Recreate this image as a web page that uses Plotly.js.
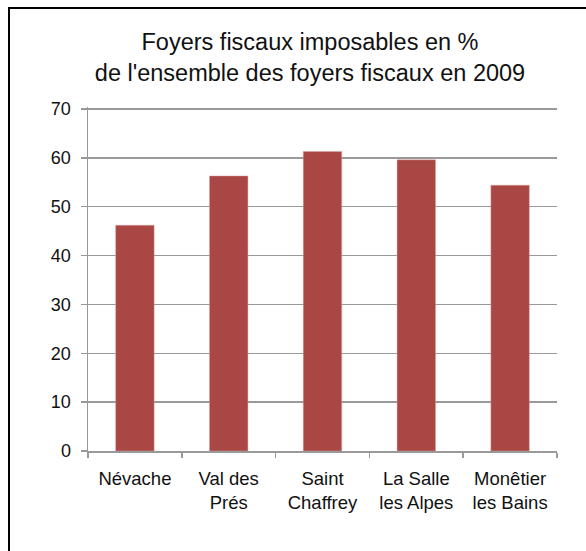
<!DOCTYPE html>
<html>
<head>
<meta charset="utf-8">
<script src="https://cdn.plot.ly/plotly-3.0.1.min.js"></script>
<style>
html,body{margin:0;padding:0;background:#fff;}
#frame{position:absolute;left:8px;top:7px;width:600px;height:600px;border-left:2.5px solid #000;border-top:2.5px solid #000;pointer-events:none;z-index:5;}
#chart{position:absolute;left:0;top:0;width:586px;height:551px;}
</style>
</head>
<body>
<div id="chart"></div>
<div id="frame"></div>
<script>
const categories = ["Névache", "Val des<br>Prés", "Saint<br>Chaffrey", "La Salle<br>les Alpes", "Monêtier<br>les Bains"];
const values = [46.2, 56.3, 61.3, 59.6, 54.4];
const yTicks = [0, 10, 20, 30, 40, 50, 60, 70];

const trace = {
  type: 'bar',
  x: categories,
  y: values,
  width: 0.41,
  marker: {color: '#A84744', line: {color: 'rgba(220,160,160,0.8)', width: 0.6}},
  hoverinfo: 'none'
};

const layout = {
  width: 586, height: 551,
  margin: {l: 88, r: 29, t: 107, b: 100, pad: 0},
  paper_bgcolor: '#fff', plot_bgcolor: '#fff',
  font: {family: 'Liberation Sans, Arial, sans-serif', color: '#111', size: 16},
  title: {
    text: 'Foyers fiscaux imposables en %<br>de l\'ensemble des foyers fiscaux en 2009',
    font: {size: 23.5, color: '#111'},
    x: 0.529, xanchor: 'center', xref: 'container',
    y: 0.909, yanchor: 'middle', yref: 'container'
  },
  showlegend: false,
  xaxis: {
    type: 'category',
    showline: true, linecolor: '#999', linewidth: 1.5,
    ticks: 'outside', tickson: 'boundaries', ticklen: 5, tickcolor: '#999', tickwidth: 1.5,
    ticklabelstandoff: 10,
    tickfont: {size: 18.5, color: '#111'},
    showgrid: false, zeroline: false,
    fixedrange: true
  },
  yaxis: {
    range: [0, 70.41],
    tickvals: yTicks,
    ticktext: yTicks.map(String),
    showline: true, linecolor: '#999', linewidth: 1.5,
    ticks: 'outside', ticklen: 6, tickcolor: '#999', tickwidth: 1.5,
    ticklabelstandoff: 6,
    showgrid: true, gridcolor: '#999', gridwidth: 1.5,
    zeroline: false,
    tickfont: {size: 18, color: '#111'},
    fixedrange: true
  }
};

Plotly.newPlot('chart', [trace], layout, {displayModeBar: false, staticPlot: true});
</script>
</body>
</html>
